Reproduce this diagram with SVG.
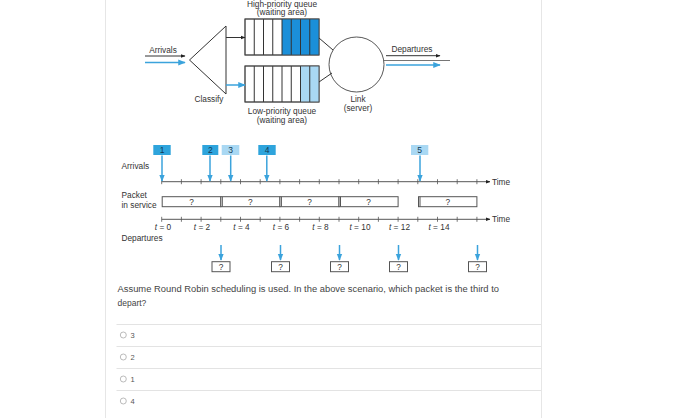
<svg xmlns="http://www.w3.org/2000/svg" width="700" height="418" viewBox="0 0 700 418">
<defs>
<marker id="ab" viewBox="0 0 10 10" refX="9" refY="5" markerWidth="5" markerHeight="5" orient="auto"><path d="M0,1 L10,5 L0,9 z" fill="#222"/></marker>
<marker id="abl" viewBox="0 0 10 10" refX="9" refY="5" markerWidth="5" markerHeight="5" orient="auto"><path d="M0,1 L10,5 L0,9 z" fill="#3ba3dc"/></marker>
<marker id="ad" viewBox="0 0 10 10" refX="9" refY="5" markerWidth="4.5" markerHeight="4.5" orient="auto"><path d="M0,1 L10,5 L0,9 z" fill="#3ba3dc"/></marker>
</defs>
<style>
text{font-family:"Liberation Sans","Open Sans",sans-serif;fill:#333}
.s{font-size:8.3px}
.q{font-size:8.5px;fill:#444}
.o{font-size:7.5px;fill:#555}
.ln{stroke:#333;stroke-width:1;fill:none}
.bl{stroke:#3ba3dc;stroke-width:1.5;fill:none}
.ax{stroke:#444;stroke-width:0.9}
.tk{stroke:#555;stroke-width:0.8}
.cell{fill:#fff;stroke:#444;stroke-width:0.9}
.dk{fill:#1b8fd9}
.ak{fill:#2ea4dc}
.lt{fill:#a9d8f3}
.pk{fill:#fff;stroke:#555;stroke-width:1}
.num{font-size:8.5px;fill:#123a55}
.qm{font-size:8.3px}
.sep{stroke:#e3e3e3;stroke-width:1}
</style>
<rect width="700" height="418" fill="#fff"/>
<line x1="105.5" y1="0" x2="105.5" y2="418" stroke="#e6e6e6"/>
<line x1="541.5" y1="0" x2="541.5" y2="418" stroke="#e6e6e6"/>

<g id="top">
<g id="classify">
<path d="M226,26 L189.5,60 L226,94 Z" class="ln"/>
<text class="s" x="209" y="102" text-anchor="middle">Classify</text>
</g>
<g id="arrivals-in">
<text class="s" x="163" y="53" text-anchor="middle">Arrivals</text>
</g>
<g id="high-queue">
<rect x="245" y="19" width="74" height="36" class="cell"/>
<rect x="282" y="19" width="37" height="36" class="dk"/>
<g class="ln" stroke-width="0.9">
<path d="M254.25,19v36M263.5,19v36M272.75,19v36M282,19v36M291.25,19v36M300.5,19v36M309.75,19v36"/>
</g>
<rect x="245" y="19" width="74" height="36" fill="none" stroke="#444" stroke-width="0.9"/>
<text class="s" x="282" y="6.5" text-anchor="middle">High-priority queue</text>
<text class="s" x="282" y="15" text-anchor="middle">(waiting area)</text>
</g>
<g id="low-queue">
<rect x="245" y="66" width="74" height="36" class="cell"/>
<rect x="300.5" y="66" width="18.5" height="36" class="lt"/>
<g class="ln" stroke-width="0.9">
<path d="M254.25,66v36M263.5,66v36M272.75,66v36M282,66v36M291.25,66v36M300.5,66v36M309.75,66v36"/>
</g>
<rect x="245" y="66" width="74" height="36" fill="none" stroke="#444" stroke-width="0.9"/>
<text class="s" x="282" y="114" text-anchor="middle">Low-priority queue</text>
<text class="s" x="282" y="123" text-anchor="middle">(waiting area)</text>
</g>
<g id="link">
<circle cx="356.5" cy="64.5" r="27.5" fill="#fff" stroke="#444" stroke-width="0.9"/>
<text class="s" x="358" y="102" text-anchor="middle">Link</text>
<text class="s" x="358" y="111" text-anchor="middle">(server)</text>
</g>
<g id="departures-out">
<text class="s" x="412" y="52" text-anchor="middle">Departures</text>
</g>
<g id="top-connectors">
<line x1="145" y1="56" x2="185" y2="56" class="ln" marker-end="url(#ab)"/>
<line x1="145" y1="62.5" x2="185" y2="62.5" class="bl" stroke-width="1" marker-end="url(#abl)"/>
<line x1="226" y1="37.5" x2="245" y2="37.5" class="ln" marker-end="url(#ab)"/>
<line x1="226" y1="85" x2="245" y2="85" class="bl" stroke-width="1" marker-end="url(#abl)"/>
<line x1="319" y1="38" x2="333" y2="50" class="ln"/>
<line x1="319" y1="82" x2="332" y2="73" class="ln"/>
<line x1="386" y1="55.7" x2="440" y2="55.7" class="ln" marker-end="url(#ab)"/>
<line x1="384" y1="60.5" x2="450" y2="60.5" stroke="#666" stroke-width="0.9"/>
<line x1="386" y1="65" x2="440" y2="65" class="bl" stroke-width="1" marker-end="url(#abl)"/>
</g>
</g>

<g id="timeline">
<text class="s" x="121.5" y="168.5">Arrivals</text>
<text class="s" x="121.5" y="197.5">Packet</text>
<text class="s" x="121.5" y="207.5">in service</text>
<text class="s" x="121.5" y="240.5">Departures</text>

<g id="axis-arrivals">
<line x1="161.7" y1="181.7" x2="490" y2="181.7" class="ax" marker-end="url(#ab)"/>
<path class="tk" d="M161.7,179.2v5M181.4,179.2v5M201.1,179.2v5M220.8,179.2v5M240.5,179.2v5M260.2,179.2v5M279.9,179.2v5M299.6,179.2v5M319.3,179.2v5M339,179.2v5M358.7,179.2v5M378.4,179.2v5M398.1,179.2v5M417.8,179.2v5M437.5,179.2v5M457.2,179.2v5M476.9,179.2v5"/>
<text class="s" x="492" y="184.5">Time</text>
</g>
<g id="axis-service">
<line x1="161.7" y1="219.3" x2="490" y2="219.3" class="ax" marker-end="url(#ab)"/>
<path class="tk" d="M161.7,216.8v5M181.4,216.8v5M201.1,216.8v5M220.8,216.8v5M240.5,216.8v5M260.2,216.8v5M279.9,216.8v5M299.6,216.8v5M319.3,216.8v5M339,216.8v5M358.7,216.8v5M378.4,216.8v5M398.1,216.8v5M417.8,216.8v5M437.5,216.8v5M457.2,216.8v5M476.9,216.8v5"/>
<text class="s" x="492" y="222">Time</text>
<g class="s" text-anchor="middle">
<text x="163" y="229.5"><tspan font-style="italic">t</tspan> = 0</text>
<text x="202" y="229.5"><tspan font-style="italic">t</tspan> = 2</text>
<text x="241.5" y="229.5"><tspan font-style="italic">t</tspan> = 4</text>
<text x="281" y="229.5"><tspan font-style="italic">t</tspan> = 6</text>
<text x="320.5" y="229.5"><tspan font-style="italic">t</tspan> = 8</text>
<text x="360" y="229.5"><tspan font-style="italic">t</tspan> = 10</text>
<text x="399.5" y="229.5"><tspan font-style="italic">t</tspan> = 12</text>
<text x="439" y="229.5"><tspan font-style="italic">t</tspan> = 14</text>
</g>
</g>

<g id="arrival-packets">
<g id="p1"><rect x="153.3" y="145" width="17.4" height="10" class="ak"/><text class="num" x="162" y="153.2" text-anchor="middle">1</text></g>
<g id="p2"><rect x="202.3" y="145" width="16" height="10" class="ak"/><text class="num" x="210.3" y="153.2" text-anchor="middle">2</text></g>
<g id="p3"><rect x="221.7" y="145" width="17.6" height="10" class="lt"/><text class="num" x="230.5" y="153.2" text-anchor="middle">3</text></g>
<g id="p4"><rect x="258.3" y="145" width="17.4" height="10" class="ak"/><text class="num" x="267" y="153.2" text-anchor="middle">4</text></g>
<g id="p5"><rect x="411" y="145" width="17.3" height="10" class="lt"/><text class="num" x="419.7" y="153.2" text-anchor="middle">5</text></g>
</g>

<g id="service-packets">
<g id="s1"><rect x="162.2" y="196.7" width="58.6" height="10" class="pk"/><text class="qm" x="191.5" y="204.6" text-anchor="middle">?</text></g>
<g id="s2"><rect x="220.8" y="196.7" width="59.1" height="10" class="pk"/><line x1="222.3" y1="196.7" x2="222.3" y2="206.7" stroke="#555"/><text class="qm" x="250.3" y="204.6" text-anchor="middle">?</text></g>
<g id="s3"><rect x="279.9" y="196.7" width="59.1" height="10" class="pk"/><line x1="281.4" y1="196.7" x2="281.4" y2="206.7" stroke="#555"/><text class="qm" x="309.5" y="204.6" text-anchor="middle">?</text></g>
<g id="s4"><rect x="339" y="196.7" width="59.1" height="10" class="pk"/><line x1="340.5" y1="196.7" x2="340.5" y2="206.7" stroke="#555"/><text class="qm" x="368.5" y="204.6" text-anchor="middle">?</text></g>
<g id="s5"><rect x="418.5" y="196.7" width="58.4" height="10" class="pk"/><line x1="420" y1="196.7" x2="420" y2="206.7" stroke="#555"/><text class="qm" x="447.7" y="204.6" text-anchor="middle">?</text></g>
</g>

<g id="departure-packets">
<g id="d1"><rect x="212" y="261.7" width="18" height="10" class="pk"/><text class="qm" x="221" y="269.6" text-anchor="middle">?</text></g>
<g id="d2"><rect x="271.5" y="261.7" width="18" height="10" class="pk"/><text class="qm" x="280.5" y="269.6" text-anchor="middle">?</text></g>
<g id="d3"><rect x="330.5" y="261.7" width="18" height="10" class="pk"/><text class="qm" x="339.5" y="269.6" text-anchor="middle">?</text></g>
<g id="d4"><rect x="389.5" y="261.7" width="18" height="10" class="pk"/><text class="qm" x="398.5" y="269.6" text-anchor="middle">?</text></g>
<g id="d5"><rect x="468.5" y="261.7" width="18" height="10" class="pk"/><text class="qm" x="477.5" y="269.6" text-anchor="middle">?</text></g>
</g>

<g id="timeline-connectors">
<line x1="162" y1="155.5" x2="162" y2="181" class="bl" marker-end="url(#ad)"/>
<line x1="210" y1="155.5" x2="210" y2="181" class="bl" marker-end="url(#ad)"/>
<line x1="230.7" y1="155.5" x2="230.7" y2="181" class="bl" marker-end="url(#ad)"/>
<line x1="266.8" y1="155.5" x2="266.8" y2="181" class="bl" marker-end="url(#ad)"/>
<line x1="420" y1="155.5" x2="420" y2="181" class="bl" marker-end="url(#ad)"/>
<line x1="221" y1="245" x2="221" y2="260" class="bl" marker-end="url(#ad)"/>
<line x1="280.5" y1="245" x2="280.5" y2="260" class="bl" marker-end="url(#ad)"/>
<line x1="339.5" y1="245" x2="339.5" y2="260" class="bl" marker-end="url(#ad)"/>
<line x1="398.5" y1="245" x2="398.5" y2="260" class="bl" marker-end="url(#ad)"/>
<line x1="477.5" y1="245" x2="477.5" y2="260" class="bl" marker-end="url(#ad)"/>
</g>
</g>

<g id="question">
<text class="q" x="117.5" y="292" textLength="381.5" lengthAdjust="spacingAndGlyphs">Assume Round Robin scheduling is used. In the above scenario, which packet is the third to</text>
<text class="q" x="117.5" y="306">depart?</text>
<line x1="116.5" y1="324.5" x2="541" y2="324.5" class="sep"/>
<line x1="116.5" y1="346.5" x2="541" y2="346.5" class="sep"/>
<line x1="116.5" y1="368.5" x2="541" y2="368.5" class="sep"/>
<line x1="116.5" y1="390.5" x2="541" y2="390.5" class="sep"/>
<g fill="#fff" stroke="#aaa" stroke-width="0.8">
<circle cx="123.3" cy="335" r="3"/>
<circle cx="123.3" cy="357" r="3"/>
<circle cx="123.3" cy="379" r="3"/>
<circle cx="123.3" cy="401" r="3"/>
</g>
<text class="o" x="130.5" y="337.7">3</text>
<text class="o" x="130.5" y="359.7">2</text>
<text class="o" x="130.5" y="381.7">1</text>
<text class="o" x="130.5" y="403.7">4</text>
</g>
</svg>
